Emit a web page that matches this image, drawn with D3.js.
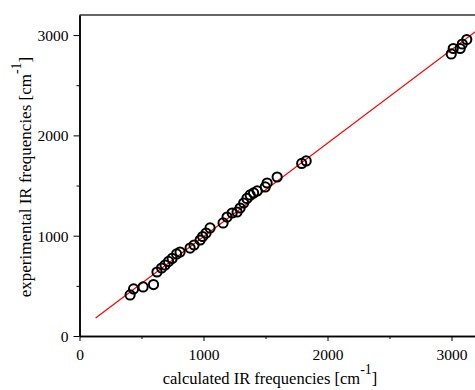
<!DOCTYPE html>
<html><head><meta charset="utf-8">
<script src="https://cdn.jsdelivr.net/npm/d3@7"></script>
<style>body{margin:0;background:#fff}svg{display:block}</style>
</head><body><svg id="c" width="475" height="390"></svg>
<script>
const calcFreq = [408,436,513,597,625,662,690,718,747,783,811,892,924,973,993,1021,1053,1158,1190,1231,1271,1295,1324,1350,1376,1404,1433,1498,1513,1594,1792,1828,2998,3014,3070,3087,3123];
const expFreq  = [409,469,489,513,638,678,708,743,773,818,837,877,907,957,992,1027,1077,1127,1186,1226,1236,1276,1326,1371,1406,1426,1446,1486,1525,1585,1720,1745,2812,2866,2866,2911,2956];
const fitX = [130, 3200];
const fitY = [180, 3041];
const xTicks = [0,1000,2000,3000];
const yTicks = [0,1000,2000,3000];
const minorTicks = [500,1500,2500];

const FONT = "'Liberation Serif', 'Times New Roman', Times, serif";
const svg = d3.select("#c");
const L = 79.5, B = 336, T = 15, R = 476.3;
const x = d3.scaleLinear().domain([0,3200]).range([L,R]);
const y = d3.scaleLinear().domain([0,3200]).range([B,T]);

svg.append("defs").append("clipPath").attr("id","clip")
  .append("rect").attr("x",L).attr("y",T).attr("width",R-L).attr("height",B-T);

// top frame
svg.append("line").attr("x1",L).attr("x2",R).attr("y1",T).attr("y2",T)
  .attr("stroke","#333").attr("stroke-width",1.5);

// axes
const xAx = svg.append("g").attr("transform",`translate(0,${B})`)
  .call(d3.axisBottom(x).tickValues(xTicks).tickSize(5).tickSizeOuter(0).tickFormat(d3.format("d")));
const xMin = svg.append("g").attr("transform",`translate(0,${B})`)
  .call(d3.axisBottom(x).tickValues(minorTicks).tickSize(3).tickSizeOuter(0).tickFormat(""));
const yAx = svg.append("g").attr("transform",`translate(${L},0)`)
  .call(d3.axisLeft(y).tickValues(yTicks).tickSize(6).tickSizeOuter(0).tickFormat(d3.format("d")));
const yMin = svg.append("g").attr("transform",`translate(${L},0)`)
  .call(d3.axisLeft(y).tickValues(minorTicks).tickSize(3).tickSizeOuter(0).tickFormat(""));
[xAx,xMin,yAx,yMin].forEach(g=>{
  g.attr("font-family",null).attr("font-size",null);
  g.select(".domain").attr("stroke","#000").attr("stroke-width",1.5);
  g.selectAll(".tick line").attr("stroke","#000").attr("stroke-width",1);
  g.selectAll("text").style("font-family",FONT).style("font-size","15.5px").attr("fill","#000");
});
xAx.selectAll("text").attr("dy","1.05em");
yAx.selectAll("text").attr("dx","-2").attr("dy","0.35em");

// fit line
const plot = svg.append("g").attr("clip-path","url(#clip)");
plot.append("line").attr("x1",x(fitX[0])).attr("y1",y(fitY[0]))
  .attr("x2",x(fitX[1])).attr("y2",y(fitY[1]))
  .attr("stroke","#ff0000").attr("stroke-width",1.2);

// points
svg.append("g").selectAll("circle").data(calcFreq).join("circle")
  .attr("cx",(d)=>x(d)).attr("cy",(d,i)=>y(expFreq[i])).attr("r",4.6)
  .attr("fill","none").attr("stroke","#000").attr("stroke-width",2);

// axis titles
const xt = svg.append("text").attr("x",270).attr("y",384).attr("text-anchor","middle")
  .style("font-family",FONT).style("font-size","16.5px").attr("fill","#000");
xt.append("tspan").text("calculated IR frequencies [cm");
xt.append("tspan").style("font-size","14px").attr("dy",-10).text("-1");
xt.append("tspan").attr("dy",10).text("]");

const yt = svg.append("text").attr("transform","translate(31,177) rotate(-90)").attr("text-anchor","middle")
  .style("font-family",FONT).style("font-size","17px").attr("fill","#000");
yt.append("tspan").text("experimental IR frequencies [cm");
yt.append("tspan").style("font-size","14px").attr("dy",-10).text("-1");
yt.append("tspan").attr("dy",10).text("]");
</script></body></html>
